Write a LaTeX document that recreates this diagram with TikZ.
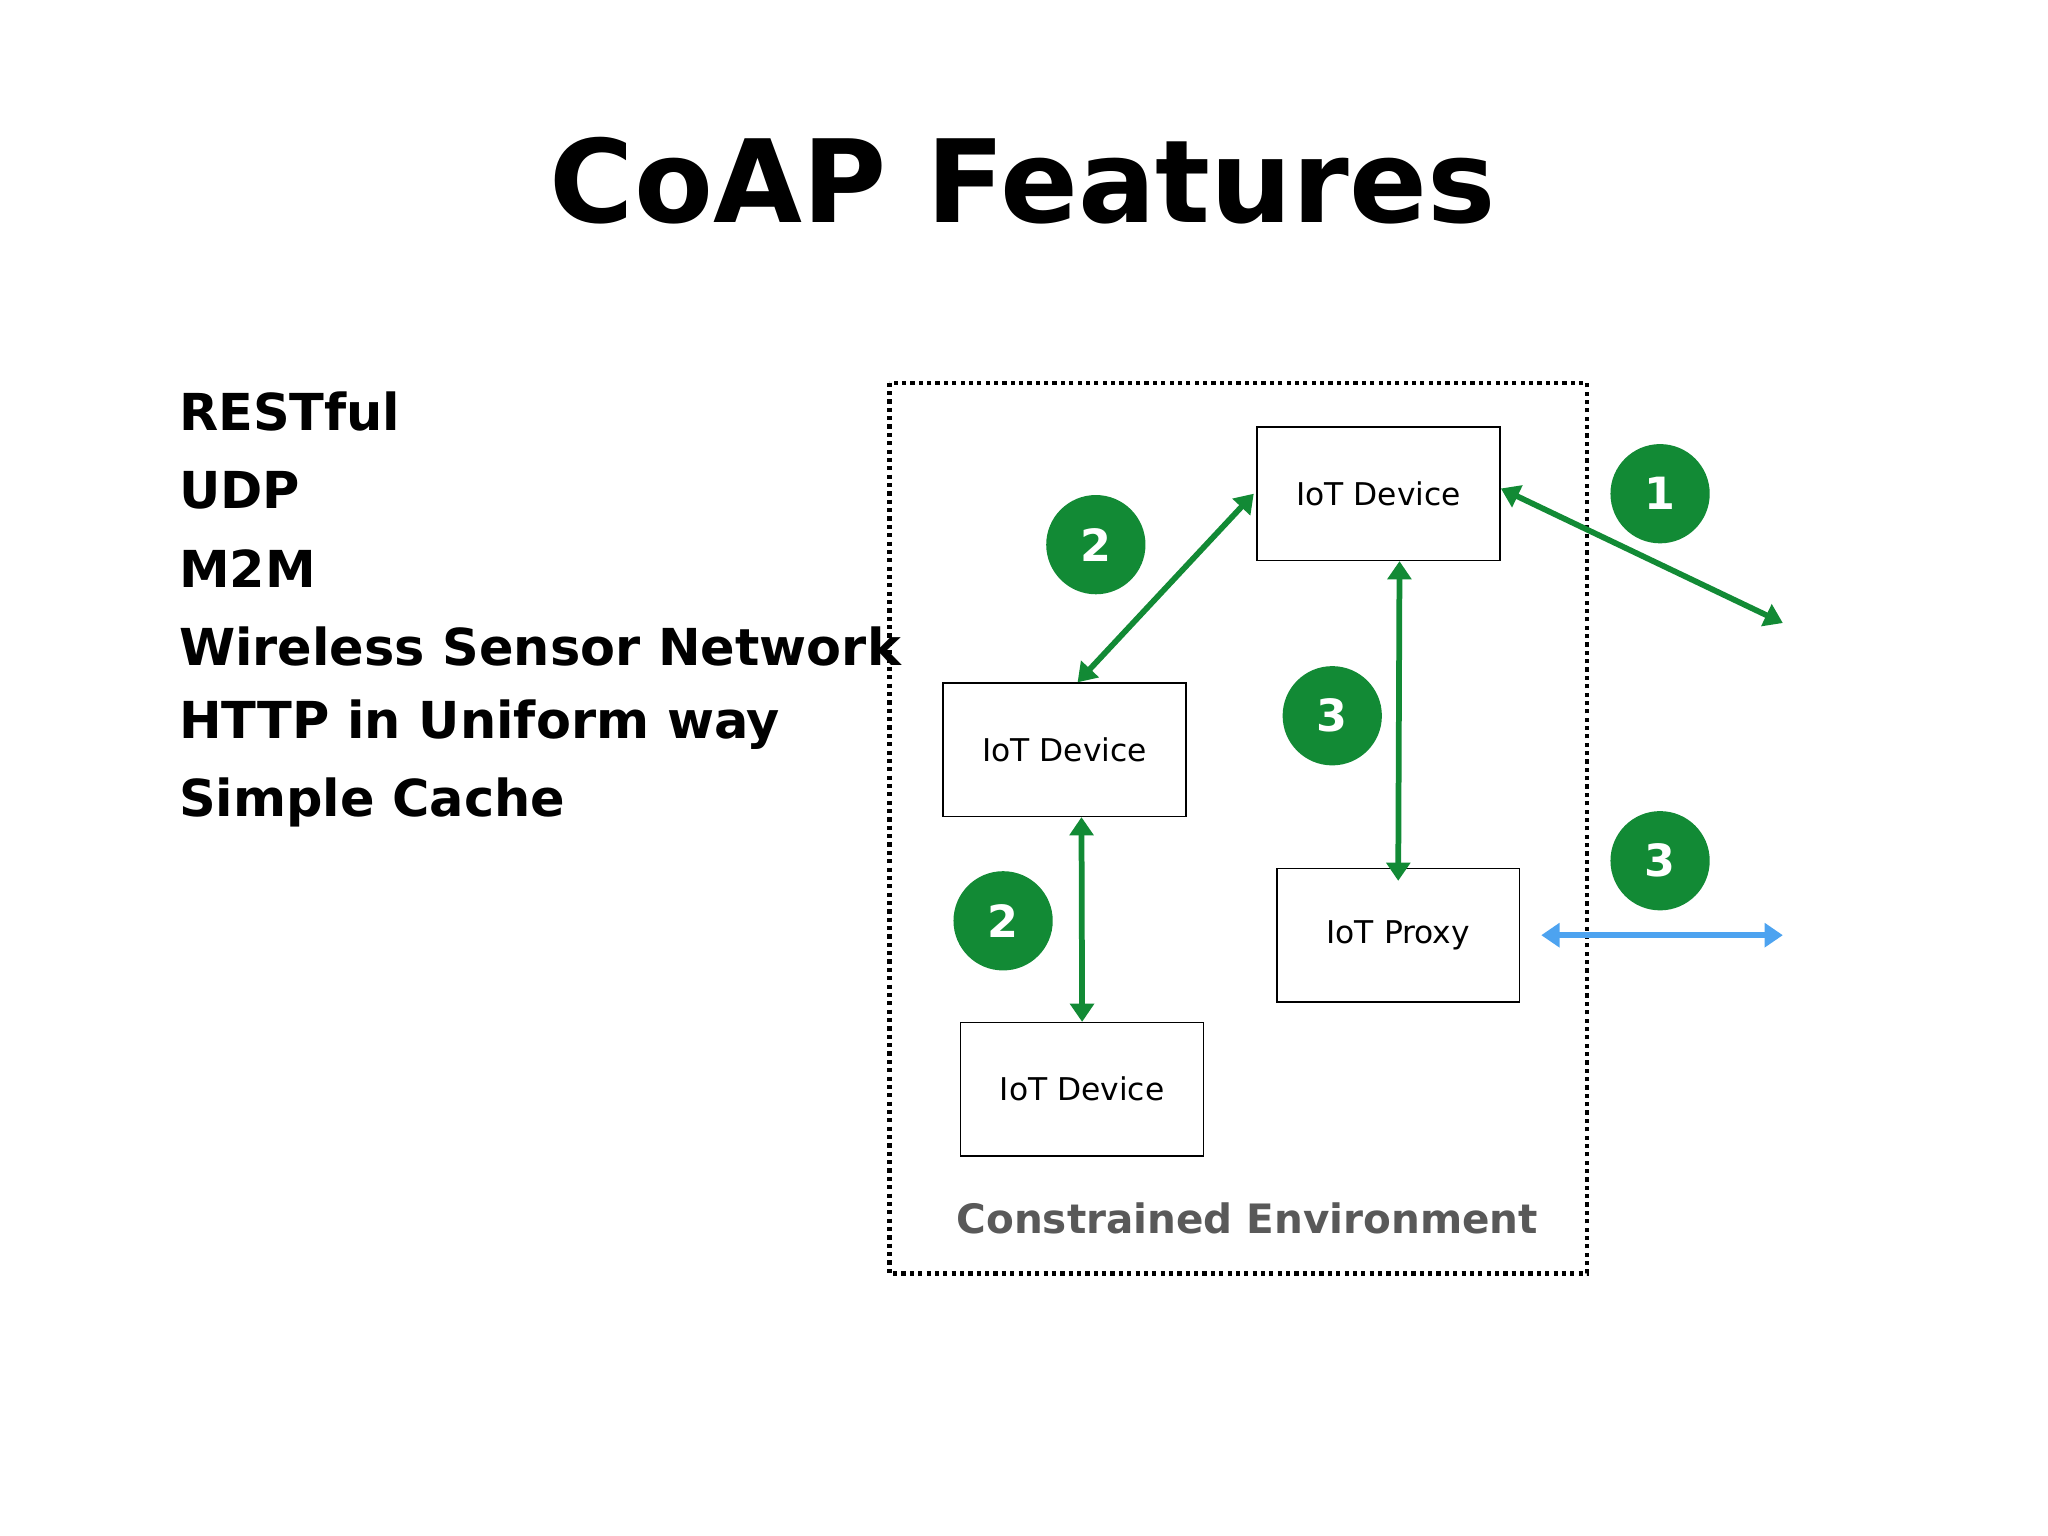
\documentclass[tikz,border=0pt]{standalone}
\usepackage{fontspec}
\setmainfont{DejaVu Sans}
\usetikzlibrary{arrows.meta}
\definecolor{gr}{HTML}{128A35}
\definecolor{bl}{HTML}{4DA3F0}
\begin{document}
\begin{tikzpicture}[x=0.5pt,y=-0.5pt,
 box/.style={draw,line width=0.6pt,minimum width=93pt,minimum height=51pt,font=\fontsize{12}{14}\selectfont,inner sep=0},
 num/.style={circle,fill=gr,text=white,minimum size=38pt,inner sep=0,font=\bfseries\fontsize{17}{19}\selectfont},
 ga/.style={draw=gr,line width=2.2pt,{Triangle[length=7pt,width=9pt]}-{Triangle[length=7pt,width=9pt]}},
 item/.style={anchor=west,font=\bfseries\fontsize{19.5}{22}\selectfont}]
\useasboundingbox (0,0) rectangle (1568,1176);
\node[font=\bfseries\fontsize{44}{50}\selectfont] (title) at (783,138) {CoAP Features};
\node[item] (i1) at (130,315) {RESTful};
\node[item] (i2) at (130,375) {UDP};
\node[item] (i3) at (130,435) {M2M};
\node[item] (i4) at (130,495) {Wireless Sensor Network};
\node[item] (i5) at (130,555) {HTTP in Uniform way};
\node[item] (i6) at (130,614) {Simple Cache};
\draw[line width=1.6pt,dash pattern=on 1.6pt off 1.6pt] (681,293) rectangle (1215,975);
\node[box] (a) at (1055.5,378) {IoT Device};
\node[box] (b) at (815,574) {IoT Device};
\node[box] (c) at (828.5,834) {IoT Device};
\node[box] (p) at (1070.5,716) {IoT Proxy};
\node[font=\bfseries\fontsize{15.5}{18}\selectfont,text=black!65] (env) at (955,933) {Constrained Environment};
\coordinate (o1) at (1365,477);
\coordinate (o2) at (1365,716);
\coordinate (o3) at (1180,716);
\draw[ga] ([xshift=-1pt]a.west) -- ([xshift=5pt]b.north);
\draw[ga] ([xshift=8pt]a.south) -- ([xshift=0pt,yshift=-5pt]p.north);
\draw[ga] ([xshift=6.5pt]b.south) -- ([xshift=0pt]c.north);
\draw[ga] ([yshift=2pt]a.east) -- (o1);
\draw[draw=bl,line width=2.2pt,{Triangle[length=7pt,width=9pt]}-{Triangle[length=7pt,width=9pt]}] (o3) -- (o2);
\node[num] (n1) at (1271,378) {1};
\node[num] (n2) at (839,417) {2};
\node[num] (n3) at (1020,548) {3};
\node[num] (n4) at (1271,659) {3};
\node[num] (n5) at (768,705) {2};
\end{tikzpicture}
\end{document}
